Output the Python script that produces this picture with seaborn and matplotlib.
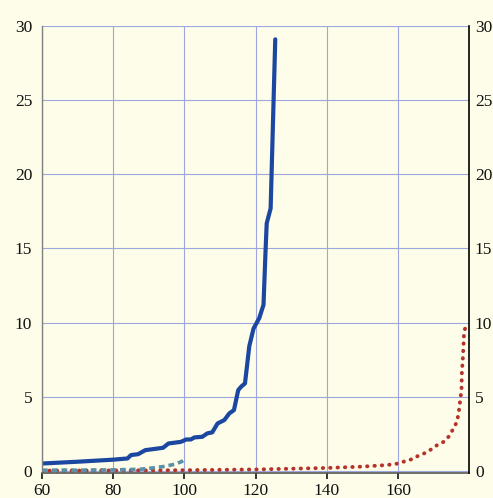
import matplotlib
matplotlib.use("Agg")
import matplotlib.pyplot as plt
import seaborn as sns

# Series
blue_x = [60, 70, 80, 84, 85, 87, 89, 94, 95.5, 99, 100.5, 101.8, 102.8, 105, 106.4,
          107.8, 109.3, 111.2, 112.6, 113.9, 115.1, 116, 117, 118.2, 119.4, 121, 122.2,
          122.8, 123.1, 124.2, 125.5]
blue_y = [0.5, 0.62, 0.76, 0.84, 1.07, 1.13, 1.4, 1.56, 1.85, 1.96, 2.12, 2.12, 2.26, 2.3, 2.53,
          2.6, 3.2, 3.43, 3.88, 4.1, 5.45, 5.7, 5.9, 8.4, 9.6, 10.3, 11.2,
          15.0, 16.7, 17.7, 29.1]

teal_x = [60, 70, 80, 84, 87.5, 91, 94, 97.3, 99.2, 100.3]
teal_y = [0.05, 0.05, 0.07, 0.09, 0.11, 0.2, 0.29, 0.45, 0.63, 0.8]

red_x = [60, 80, 100, 120, 140, 150, 157, 160, 162, 164, 165.5, 167.7, 169.6, 171, 173.1,
         174.5, 175.6, 176.5, 177, 177.5, 177.8, 177.9, 178.2, 178.4, 178.5, 179]
red_y = [0.02, 0.03, 0.05, 0.1, 0.2, 0.29, 0.4, 0.5, 0.66, 0.8, 1.0, 1.22, 1.5, 1.75, 2.0,
         2.4, 2.9, 3.3, 3.9, 4.9, 5.45, 6.6, 7.7, 8.7, 9.3, 9.8]

x_ticks = [60, 80, 100, 120, 140, 160]
y_ticks = [0, 5, 10, 15, 20, 25, 30]

bg = "#fefde9"
sns.set_theme(style="white")
plt.rcParams["font.family"] = ["Liberation Serif", "DejaVu Serif"]

fig = plt.figure(figsize=(4.93, 4.98), dpi=100, facecolor=bg)
ax = fig.add_axes([0.0852, 0.0502, 0.8668, 0.8976], facecolor=bg)

sns.lineplot(x=red_x, y=red_y, ax=ax, color="#b5332a", linewidth=2.8,
             linestyle=(0, (0.1, 1.8)), dash_capstyle="round", sort=False)
sns.lineplot(x=teal_x, y=teal_y, ax=ax, color="#5a8fa6", linewidth=2.6,
             linestyle=(0, (1.6, 1.1)), sort=False)
sns.lineplot(x=blue_x, y=blue_y, ax=ax, color="#1c47a1", linewidth=3.0, sort=False)

ax.set_xlim(60, 180)
ax.set_ylim(-0.14, 30)
ax.set_xticks(x_ticks)
ax.set_yticks(y_ticks)
ax.grid(True, color="#9ea6e0", linewidth=0.8)
ax.set_axisbelow(True)

ax.spines["top"].set_visible(False)
ax.spines["right"].set_visible(False)
ax.spines["left"].set_color("#808080")
ax.spines["left"].set_linewidth(1.0)
ax.spines["bottom"].set_color("#555555")
ax.spines["bottom"].set_linewidth(1.2)

ax.tick_params(axis="x", bottom=True, direction="out", length=4, width=1.1,
               color="black", labelsize=12.5, pad=3, labelcolor="#111111")
ax.tick_params(axis="y", left=False, length=0, labelsize=12.5, pad=7, labelcolor="#111111")

# right-hand copy of the value axis
ax2 = ax.twinx()
ax2.set_ylim(ax.get_ylim())
ax2.set_yticks(y_ticks)
ax2.grid(False)
for s in ["top", "left", "bottom"]:
    ax2.spines[s].set_visible(False)
ax2.spines["right"].set_color("black")
ax2.spines["right"].set_linewidth(1.2)
ax2.tick_params(axis="y", right=False, length=0, labelsize=12.5, pad=4, labelcolor="#111111")

plt.savefig("out.png", dpi=100, facecolor=bg)
